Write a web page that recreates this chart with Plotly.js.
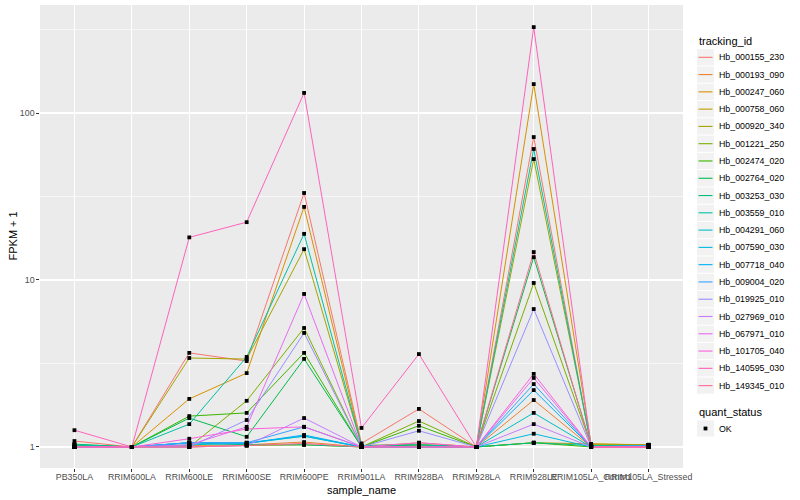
<!DOCTYPE html>
<html>
<head>
<meta charset="utf-8">
<script src="https://cdn.plot.ly/plotly-3.0.1.min.js"></script>
<style>html,body{margin:0;padding:0;background:#fff;}#chart{width:800px;height:500px;}</style>
</head>
<body>
<div id="chart"></div>
<script>
const categories = ["PB350LA","RRIM600LA","RRIM600LE","RRIM600SE","RRIM600PE","RRIM901LA","RRIM928BA","RRIM928LA","RRIM928LE","RRIM105LA_Control","RRIM105LA_Stressed"];
const trackingIds = ["Hb_000155_230","Hb_000193_090","Hb_000247_060","Hb_000758_060","Hb_000920_340","Hb_001221_250","Hb_002474_020","Hb_002764_020","Hb_003253_030","Hb_003559_010","Hb_004291_060","Hb_007590_030","Hb_007718_040","Hb_009004_020","Hb_019925_010","Hb_027969_010","Hb_067971_010","Hb_101705_040","Hb_140595_030","Hb_149345_010"];
const colors = ["#F8766D","#EA8331","#D89000","#C09B00","#A3A500","#7CAE00","#39B600","#00BB4E","#00BF7D","#00C1A3","#00BFC4","#00BAE0","#00B0F6","#35A2FF","#9590FF","#C77CFF","#E76BF3","#FA62DB","#FF62BC","#FF6C91"];
const quantStatus = ["OK"];

// FPKM + 1 per sample, in category order
const hb_000155_230 = [1.085, 1, 3.66, 3.27, 33.2, 1.05, 1.69, 1, 71.8, 1.0, 1.0];
const hb_000193_090 = [1.0, 1, 1.02, 1.03, 1.07, 1.0, 1.06, 1, 1.91, 1.0, 1.02];
const hb_000247_060 = [1.0, 1, 1.94, 2.77, 27.4, 1.02, 1.03, 1, 149, 1.04, 1.03];
const hb_000758_060 = [1.0, 1, 1.0, 1.02, 1.03, 1.0, 1.0, 1, 1.06, 1.04, 1.03];
const hb_000920_340 = [1.0, 1, 3.41, 3.36, 15.3, 1.02, 1.03, 1, 53, 1.03, 1.03];
const hb_001221_250 = [1.0, 1, 1.0, 1.89, 5.16, 1.0, 1.43, 1, 9.6, 1.02, 1.02];
const hb_002474_020 = [1.02, 1, 1.53, 1.6, 3.66, 1.0, 1.34, 1, 1.06, 1.0, 1.02];
const hb_002764_020 = [1.04, 1, 1.49, 1.15, 3.37, 1.0, 1.03, 1, 13.7, 1.02, 1.02];
const hb_003253_030 = [1.03, 1, 1.06, 1.03, 1.03, 1.0, 1.0, 1, 1.06, 1.02, 1.02];
const hb_003559_010 = [1.03, 1, 1.37, 3.46, 18.9, 1.02, 1.03, 1, 60.9, 1.02, 1.02];
const hb_004291_060 = [1.0, 1, 1.03, 1.05, 1.16, 1.0, 1.0, 1, 1.6, 1.0, 1.02];
const hb_007590_030 = [1.0, 1, 1.06, 1.06, 1.16, 1.0, 1.0, 1, 1.2, 1.0, 1.02];
const hb_007718_040 = [1.0, 1, 1.06, 1.05, 1.18, 1.0, 1.0, 1, 2.19, 1.0, 1.02];
const hb_009004_020 = [1.0, 1, 1.06, 1.06, 1.32, 1.0, 1.0, 1, 2.38, 1.0, 1.02];
const hb_019925_010 = [1.0, 1, 1.0, 1.45, 4.82, 1.0, 1.25, 1, 6.7, 1.0, 1.0];
const hb_027969_010 = [1.0, 1, 1.0, 1.02, 1.49, 1.0, 1.0, 1, 1.37, 1.0, 1.0];
const hb_067971_010 = [1.0, 1, 1.03, 1.32, 8.25, 1.0, 1.0, 1, 2.59, 1.0, 1.0];
const hb_101705_040 = [1.0, 1, 1.12, 1.28, 1.32, 1.0, 1.06, 1, 2.74, 1.0, 1.0];
const hb_140595_030 = [1.26, 1, 18.0, 22.2, 132, 1.3, 3.6, 1, 327, 1.0, 1.0];
const hb_149345_010 = [1.0, 1, 1.0, 1.02, 1.05, 1.0, 1.0, 1, 14.7, 1.0, 1.0];

const yTickVals = [1, 10, 100];
const yTickText = ["1", "10", "100"];
const yMinorVals = [3.1623, 31.623, 316.23];

const seriesValues = [hb_000155_230, hb_000193_090, hb_000247_060, hb_000758_060, hb_000920_340, hb_001221_250, hb_002474_020, hb_002764_020, hb_003253_030, hb_003559_010, hb_004291_060, hb_007590_030, hb_007718_040, hb_009004_020, hb_019925_010, hb_027969_010, hb_067971_010, hb_101705_040, hb_140595_030, hb_149345_010];

const FONT = "Liberation Sans, Arial, Helvetica, sans-serif";
const W = 800, H = 500;
const M = {l: 40, r: 117, t: 5, b: 32};
const PW = W - M.l - M.r, PH = H - M.t - M.b;
const px2x = px => (px - M.l) / PW;
const py2y = py => (H - M.b - py) / PH;

const traces = [];
seriesValues.forEach((vals, i) => {
  traces.push({
    type: "scatter", mode: "lines", x: categories, y: vals,
    name: trackingIds[i], line: {color: colors[i], width: 1}, showlegend: false
  });
});
seriesValues.forEach((vals, i) => {
  traces.push({
    type: "scatter", mode: "markers", x: categories, y: vals,
    name: quantStatus[0], marker: {color: "#000000", symbol: "square", size: 3.8},
    showlegend: false
  });
});

// ggplot-style legend built from the arrays
const shapes = [];
const annotations = [];
const keyX0 = 697, keyX1 = 714, step = 17.28, firstY = 57.3;
annotations.push({xref: "paper", yref: "paper", x: px2x(697), y: py2y(41), xanchor: "left", yanchor: "middle",
  text: "tracking_id", showarrow: false, font: {family: FONT, size: 11, color: "#000000"}});
trackingIds.forEach((id, i) => {
  const cy = firstY + i * step;
  shapes.push({type: "rect", xref: "paper", yref: "paper", x0: px2x(keyX0), x1: px2x(keyX1),
    y0: py2y(cy - 8.1), y1: py2y(cy + 8.1), fillcolor: "#F2F2F2", line: {width: 0}, layer: "below"});
  shapes.push({type: "line", xref: "paper", yref: "paper", x0: px2x(keyX0 + 1.5), x1: px2x(keyX1 - 1.5),
    y0: py2y(cy), y1: py2y(cy), line: {color: colors[i], width: 1.1}});
  annotations.push({xref: "paper", yref: "paper", x: px2x(717), y: py2y(cy), xanchor: "left", yanchor: "middle",
    text: id, showarrow: false, font: {family: FONT, size: 8.8, color: "#000000"}});
});
annotations.push({xref: "paper", yref: "paper", x: px2x(697), y: py2y(412), xanchor: "left", yanchor: "middle",
  text: "quant_status", showarrow: false, font: {family: FONT, size: 11, color: "#000000"}});
const okY = 428.5;
shapes.push({type: "rect", xref: "paper", yref: "paper", x0: px2x(keyX0), x1: px2x(keyX1),
  y0: py2y(okY - 8.1), y1: py2y(okY + 8.1), fillcolor: "#F2F2F2", line: {width: 0}, layer: "below"});
shapes.push({type: "rect", xref: "paper", yref: "paper", x0: px2x(703.6), x1: px2x(707.4),
  y0: py2y(okY - 1.9), y1: py2y(okY + 1.9), fillcolor: "#000000", line: {width: 0}});
annotations.push({xref: "paper", yref: "paper", x: px2x(717), y: py2y(okY), xanchor: "left", yanchor: "middle",
  text: quantStatus[0], showarrow: false, font: {family: FONT, size: 8.8, color: "#000000"}});

// axis titles
annotations.push({xref: "paper", yref: "paper", x: 0.5, y: py2y(490), xanchor: "center", yanchor: "middle",
  text: "sample_name", showarrow: false, font: {family: FONT, size: 11, color: "#000000"}});
annotations.push({xref: "paper", yref: "paper", x: px2x(12), y: 0.5, xanchor: "center", yanchor: "middle",
  text: "FPKM + 1", textangle: -90, showarrow: false, font: {family: FONT, size: 11, color: "#000000"}});

const layout = {
  width: W, height: H,
  margin: M,
  paper_bgcolor: "#FFFFFF", plot_bgcolor: "#EBEBEB",
  font: {family: FONT, size: 8.8, color: "#000000"},
  showlegend: false,
  xaxis: {
    type: "category", range: [-0.6, 10.6], tickangle: 0,
    showgrid: true, gridcolor: "#FFFFFF", gridwidth: 1.1, zeroline: false, showline: false,
    ticks: "outside", ticklen: 2.7, tickcolor: "#333333", tickwidth: 1,
    ticklabelstandoff: -2,
    tickfont: {family: FONT, size: 8.8, color: "#4D4D4D"},
    automargin: false
  },
  yaxis: {
    type: "log", range: [-0.126, 2.647],
    tickmode: "array", tickvals: yTickVals, ticktext: yTickText,
    showgrid: true, gridcolor: "#FFFFFF", gridwidth: 1.1, zeroline: false, showline: false,
    ticks: "outside", ticklen: 2.7, tickcolor: "#333333", tickwidth: 1,
    tickfont: {family: FONT, size: 8.8, color: "#4D4D4D"},
    minor: {tickmode: "array", tickvals: yMinorVals, showgrid: true, gridcolor: "#FFFFFF", gridwidth: 0.55, ticks: ""},
    automargin: false
  },
  shapes: shapes,
  annotations: annotations
};

Plotly.newPlot("chart", traces, layout, {displayModeBar: false, staticPlot: true});
</script>
</body>
</html>
